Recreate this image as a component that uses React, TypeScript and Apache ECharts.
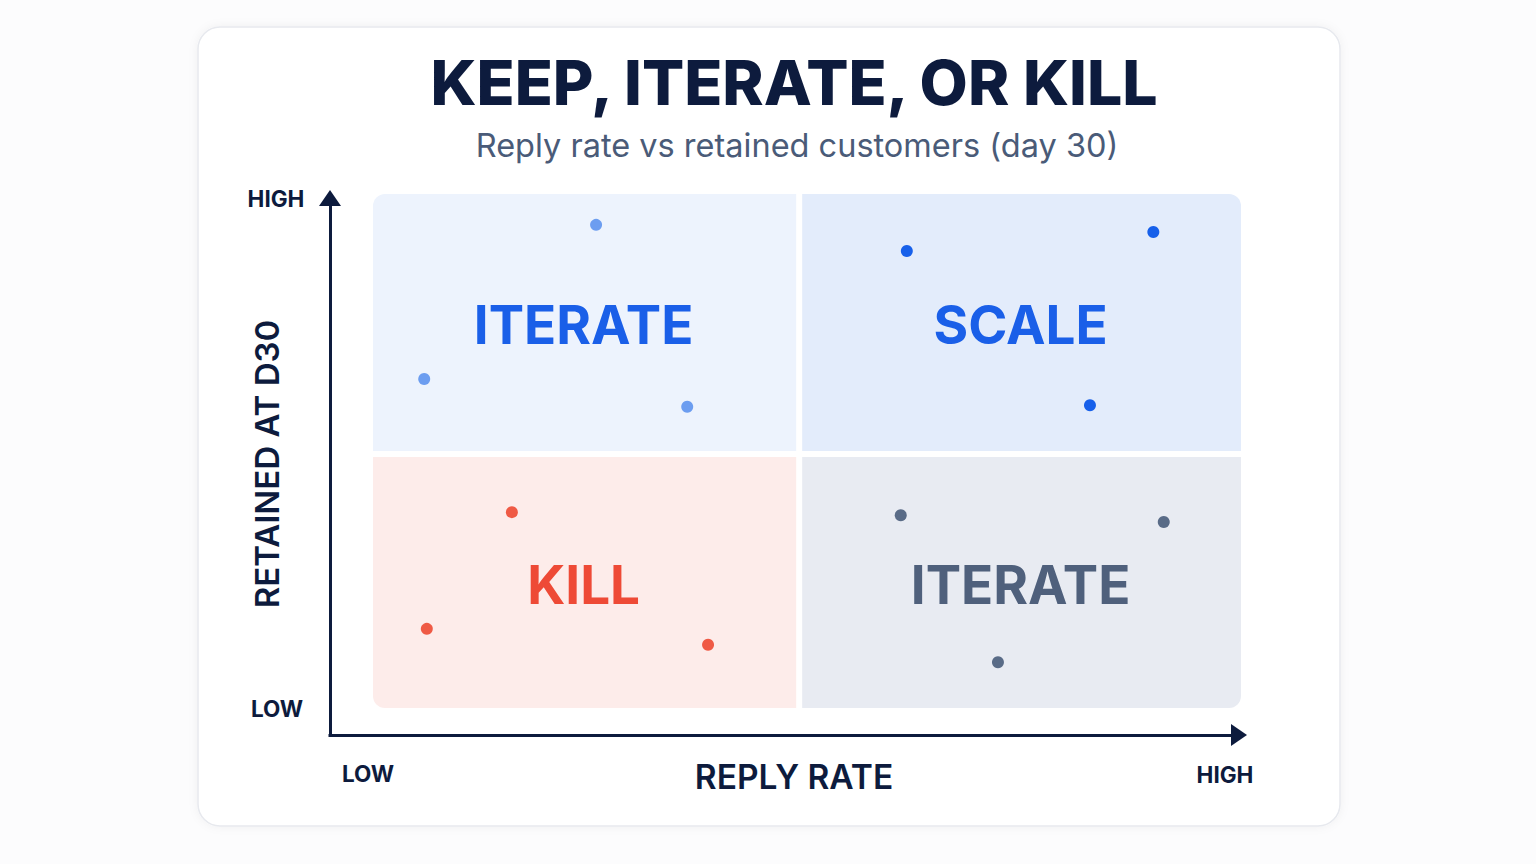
import React, { useEffect, useRef } from "react";
import * as echarts from "echarts";

const TITLE = "KEEP, ITERATE, OR KILL";
const SUBTITLE = "Reply rate vs retained customers (day 30)";
const X_AXIS_TITLE = "REPLY RATE";
const Y_AXIS_TITLE = "RETAINED AT D30";
const LOW_LABEL = "LOW";
const HIGH_LABEL = "HIGH";

const SPLIT_X = 49.1;
const SPLIT_Y = 49.4;

// quadrant: [x0, x1, y0, y1]
const quadrantNames = ["ITERATE", "SCALE", "KILL", "ITERATE"];
const quadrantRanges = [
  [0, SPLIT_X, SPLIT_Y, 100],
  [SPLIT_X, 100, SPLIT_Y, 100],
  [0, SPLIT_X, 0, SPLIT_Y],
  [SPLIT_X, 100, 0, SPLIT_Y],
];
const quadrantFills = ["#edf3fd", "#e3ecfb", "#fdecea", "#e8ebf2"];
const quadrantTextColors = ["#1a5fe8", "#1a5fe8", "#ee4a36", "#4f607c"];

const iteratePointsHighRetention = [
  [25.7, 94.0],
  [5.9, 64.0],
  [36.2, 58.6],
];
const scalePoints = [
  [61.5, 88.9],
  [89.9, 92.6],
  [82.6, 58.9],
];
const killPoints = [
  [16.0, 38.1],
  [6.2, 15.4],
  [38.6, 12.3],
];
const iteratePointsHighReply = [
  [60.8, 37.5],
  [91.1, 36.2],
  [72.0, 8.9],
];
const pointColors = ["#6c9df0", "#1760ea", "#ef5a45", "#596b87"];

const FONT = "Inter, 'Noto Sans', sans-serif";
const NAVY = "#0d1b3d";

export default function App() {
  const ref = useRef<HTMLDivElement>(null);

  useEffect(() => {
    if (!ref.current) return;
    const chart = echarts.init(ref.current, undefined, { renderer: "svg" });

    const quadrantData = quadrantRanges.map((r, i) => ({
      value: r,
      name: quadrantNames[i],
    }));

    const renderQuadrant = (params: any, api: any) => {
      const i = params.dataIndex;
      const x0 = api.value(0);
      const x1 = api.value(1);
      const y0 = api.value(2);
      const y1 = api.value(3);
      const tl = api.coord([x0, y1]);
      const br = api.coord([x1, y0]);
      const gap = 3;
      let left = tl[0];
      let top = tl[1];
      let right = br[0];
      let bottom = br[1];
      if (x0 > 0) left += gap;
      if (x1 < 100) right -= gap;
      if (y1 < 100) top += gap;
      if (y0 > 0) bottom -= gap;
      const R = 12;
      const r = [
        x0 === 0 && y1 === 100 ? R : 0,
        x1 === 100 && y1 === 100 ? R : 0,
        x1 === 100 && y0 === 0 ? R : 0,
        x0 === 0 && y0 === 0 ? R : 0,
      ];
      return {
        type: "group",
        children: [
          {
            type: "rect",
            shape: { x: left, y: top, width: right - left, height: bottom - top, r },
            style: { fill: quadrantFills[i] },
          },
          {
            type: "text",
            x: (left + right) / 2 - 1,
            y: (top + bottom) / 2 + 2,
            style: {
              text: quadrantNames[i],
              fill: quadrantTextColors[i],
              font: `700 53px ${FONT}`,
              align: "center",
              verticalAlign: "middle",
              textAlign: "center",
              textVerticalAlign: "middle",
            },
          },
        ],
      };
    };

    const scatter = (data: number[][], color: string) => ({
      type: "scatter",
      xAxisIndex: 0,
      yAxisIndex: 0,
      data,
      symbolSize: 12,
      z: 5,
      itemStyle: { color, opacity: 1 },
      silent: true,
    });

    const txt = (
      text: string,
      x: number,
      y: number,
      font: string,
      fill: string,
      extra: any = {}
    ) => ({
      type: "text",
      x,
      y,
      z: 10,
      ...extra,
      style: {
        text,
        font,
        fill,
        align: "center",
        verticalAlign: "middle",
        textAlign: "center",
        textVerticalAlign: "middle",
      },
    });

    const hiddenAxis = {
      show: false,
      type: "value",
      min: 0,
      max: 100,
    };

    const arrowAxisLine = {
      show: true,
      symbol: ["none", "triangle"],
      symbolSize: [22, 16],
      lineStyle: { color: NAVY, width: 3, cap: "square" },
    };

    const option: any = {
      animation: false,
      backgroundColor: "#fcfcfd",
      grid: [
        { left: 373, right: 295, top: 194, bottom: 156 },
        { left: 330, right: 297, top: 198, bottom: 129 },
      ],
      xAxis: [
        { ...hiddenAxis, gridIndex: 0 },
        {
          type: "value",
          gridIndex: 1,
          min: 0,
          max: 1,
          axisLine: arrowAxisLine,
          axisTick: { show: false },
          axisLabel: { show: false },
          splitLine: { show: false },
        },
      ],
      yAxis: [
        { ...hiddenAxis, gridIndex: 0 },
        {
          type: "value",
          gridIndex: 1,
          min: 0,
          max: 1,
          axisLine: arrowAxisLine,
          axisTick: { show: false },
          axisLabel: { show: false },
          splitLine: { show: false },
        },
      ],
      graphic: [
        {
          type: "rect",
          z: -10,
          shape: { x: 198, y: 27, width: 1142, height: 799, r: 22 },
          style: {
            fill: "#ffffff",
            stroke: "#e7e9ee",
            lineWidth: 1.5,
            shadowBlur: 10,
            shadowColor: "rgba(15,25,50,0.05)",
          },
        },
        txt(TITLE, 794, 82, `800 62.5px ${FONT}`, NAVY),
        txt(SUBTITLE, 797, 145, `400 32.5px ${FONT}`, "#4a5b78"),
        txt(HIGH_LABEL, 276, 198, `700 22.5px ${FONT}`, NAVY),
        txt(LOW_LABEL, 277, 708, `700 22.5px ${FONT}`, NAVY),
        txt(LOW_LABEL, 368, 773, `700 22.5px ${FONT}`, NAVY),
        txt(HIGH_LABEL, 1225, 774, `700 22.5px ${FONT}`, NAVY),
        txt(X_AXIS_TITLE, 794, 777, `600 33.5px ${FONT}`, NAVY),
        txt(Y_AXIS_TITLE, 267, 464, `600 33px ${FONT}`, NAVY, {
          rotation: Math.PI / 2,
        }),
      ],
      series: [
        {
          type: "custom",
          xAxisIndex: 0,
          yAxisIndex: 0,
          z: 1,
          silent: true,
          renderItem: renderQuadrant,
          encode: { x: [0, 1], y: [2, 3] },
          data: quadrantData,
        },
        scatter(iteratePointsHighRetention, pointColors[0]),
        scatter(scalePoints, pointColors[1]),
        scatter(killPoints, pointColors[2]),
        scatter(iteratePointsHighReply, pointColors[3]),
      ],
    };

    chart.setOption(option);
    return () => chart.dispose();
  }, []);

  return (
    <div
      ref={ref}
      style={{ position: "fixed", left: 0, top: 0, width: 1536, height: 864 }}
    />
  );
}
